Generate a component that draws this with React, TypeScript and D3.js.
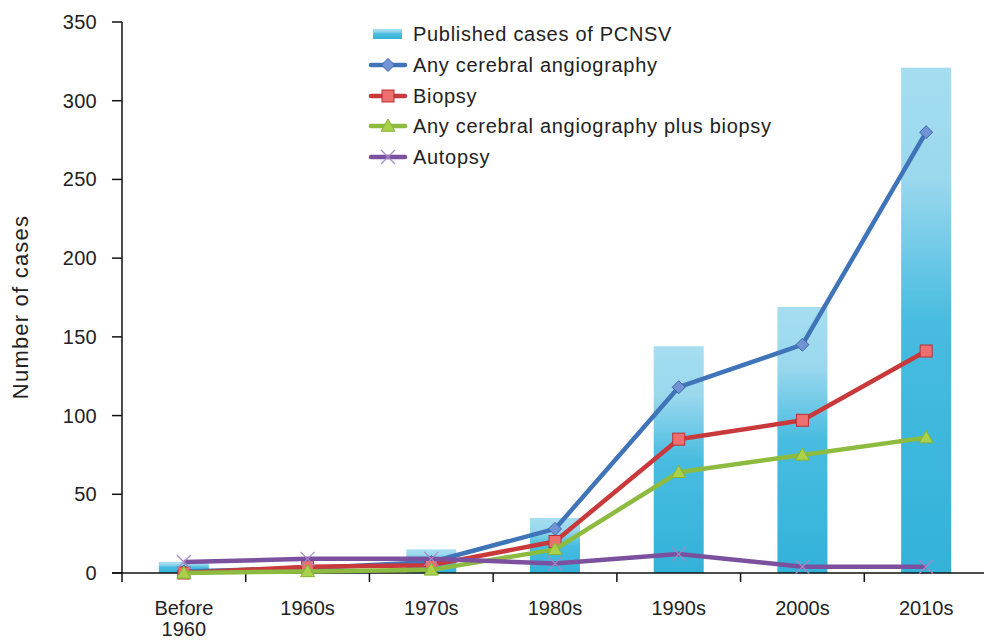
import React from 'react';
import * as d3 from 'd3';

const categories = ['Before 1960', '1960s', '1970s', '1980s', '1990s', '2000s', '2010s'];
const publishedCases = [7, 0, 15, 35, 144, 169, 321];
const angiography = [1, 3, 7, 28, 118, 145, 280];
const biopsy = [0, 4, 5, 20, 85, 97, 141];
const angioPlusBiopsy = [0, 1, 2, 15, 64, 75, 86];
const autopsy = [7, 9, 9, 6, 12, 4, 4];
const yTicks = [0, 50, 100, 150, 200, 250, 300, 350];

const width = 984;
const height = 640;
const plot = { left: 122, right: 988, top: 22, bottom: 573 };
const font = '"Liberation Sans", Arial, sans-serif';

type Marker = 'diamond' | 'square' | 'triangle' | 'cross';

const seriesList: { name: string; values: number[]; stroke: string; fill: string; edge: string; marker: Marker }[] = [
  { name: 'Any cerebral angiography', values: angiography, stroke: '#3f74b9', fill: '#7294d6', edge: '#3f64a8', marker: 'diamond' },
  { name: 'Biopsy', values: biopsy, stroke: '#c9393b', fill: '#ee6f6f', edge: '#b83234', marker: 'square' },
  { name: 'Any cerebral angiography plus biopsy', values: angioPlusBiopsy, stroke: '#8dbb40', fill: '#a9d24a', edge: '#86b13a', marker: 'triangle' },
  { name: 'Autopsy', values: autopsy, stroke: '#7b519f', fill: 'none', edge: '#a58ac4', marker: 'cross' },
];

function MarkerShape({ kind, x, y, fill, edge }: { kind: Marker; x: number; y: number; fill: string; edge: string }) {
  if (kind === 'diamond') {
    const r = 6.5;
    return <path d={`M${x},${y - r}L${x + r},${y}L${x},${y + r}L${x - r},${y}Z`} fill={fill} stroke={edge} strokeWidth={1} />;
  }
  if (kind === 'square') {
    const r = 6;
    return <rect x={x - r} y={y - r} width={2 * r} height={2 * r} fill={fill} stroke={edge} strokeWidth={1} />;
  }
  if (kind === 'triangle') {
    const r = 7;
    return <path d={`M${x},${y - r}L${x + r},${y + r * 0.75}L${x - r},${y + r * 0.75}Z`} fill={fill} stroke={edge} strokeWidth={1} />;
  }
  const r = 7;
  return (
    <path d={`M${x - r},${y - r}L${x + r},${y + r}M${x - r},${y + r}L${x + r},${y - r}`} stroke={edge} strokeWidth={1.2} fill="none" />
  );
}

export default function App() {
  const x = d3.scaleBand<string>().domain(categories).range([plot.left, plot.right]);
  const y = d3.scaleLinear().domain([0, 350]).range([plot.bottom, plot.top]);
  const barW = 50;
  const cx = (c: string) => (x(c) as number) + x.bandwidth() / 2;
  const line = d3
    .line<number>()
    .x((_, i) => cx(categories[i]))
    .y((d) => y(d));

  const legendX = 372;
  const legendY = [34, 65, 96, 126, 157];

  return (
    <div style={{ position: 'fixed', left: 0, top: 0 }}>
      <svg width={width} height={height} style={{ display: 'block', background: '#fff' }} fontFamily={font}>
        <defs>
          <linearGradient id="barGrad" x1="0" y1="0" x2="0" y2="1">
            <stop offset="0%" stopColor="#a6ddf0" />
            <stop offset="22%" stopColor="#9ad8ee" />
            <stop offset="50%" stopColor="#48bce0" />
            <stop offset="100%" stopColor="#33b2da" />
          </linearGradient>
        </defs>

        {/* bars */}
        {publishedCases.map((v, i) => {
          if (v <= 0) return null;
          return (
            <rect key={i} x={cx(categories[i]) - barW / 2} y={y(v)} width={barW} height={y(0) - y(v)} fill="url(#barGrad)" />
          );
        })}

        {/* axes */}
        <line x1={plot.left} x2={plot.left} y1={plot.top} y2={plot.bottom} stroke="#111" strokeWidth={1.5} />
        <line x1={112} x2={width} y1={plot.bottom} y2={plot.bottom} stroke="#111" strokeWidth={1.5} />
        {yTicks.map((t) => (
          <g key={t}>
            <line x1={112} x2={plot.left} y1={y(t)} y2={y(t)} stroke="#111" strokeWidth={1.5} />
            <text x={97} y={y(t)} dy="0.35em" textAnchor="end" fontSize={20} letterSpacing={0.3} fill="#222">
              {t}
            </text>
          </g>
        ))}
        {categories.map((c) => (
          <line key={c} x1={x(c) as number} x2={x(c) as number} y1={plot.bottom} y2={plot.bottom + 9} stroke="#111" strokeWidth={1.5} />
        ))}
        {categories.map((c) => {
          const parts = c === 'Before 1960' ? ['Before', '1960'] : [c];
          return (
            <text key={c} x={cx(c)} y={615} textAnchor="middle" fontSize={20} fill="#222">
              {parts.map((p, j) => (
                <tspan key={j} x={cx(c)} dy={j === 0 ? 0 : 21}>
                  {p}
                </tspan>
              ))}
            </text>
          );
        })}
        <text transform={`translate(28,${307}) rotate(-90)`} textAnchor="middle" fontSize={22} letterSpacing={1.2} fill="#222">
          Number of cases
        </text>

        {/* lines */}
        {seriesList.map((s) => (
          <g key={s.name}>
            <path d={line(s.values) || ''} fill="none" stroke={s.stroke} strokeWidth={4.5} strokeLinejoin="round" />
            {s.values.map((v, i) => (
              <MarkerShape key={i} kind={s.marker} x={cx(categories[i])} y={y(v)} fill={s.fill} edge={s.edge} />
            ))}
          </g>
        ))}

        {/* legend */}
        <rect x={legendX + 1} y={legendY[0] - 5} width={29} height={10} fill="url(#barGrad)" />
        <text x={413} y={legendY[0]} dy="0.35em" fontSize={20} letterSpacing={0.7} fill="#222">
          Published cases of PCNSV
        </text>
        {seriesList.map((s, i) => {
          const ly = legendY[i + 1];
          return (
            <g key={s.name}>
              <line x1={legendX - 1} x2={legendX + 33} y1={ly} y2={ly} stroke={s.stroke} strokeWidth={4.5} strokeLinecap="round" />
              <MarkerShape kind={s.marker} x={legendX + 16} y={ly} fill={s.fill} edge={s.edge} />
              <text x={413} y={ly} dy="0.35em" fontSize={20} letterSpacing={0.7} fill="#222">
                {s.name}
              </text>
            </g>
          );
        })}
      </svg>
    </div>
  );
}
